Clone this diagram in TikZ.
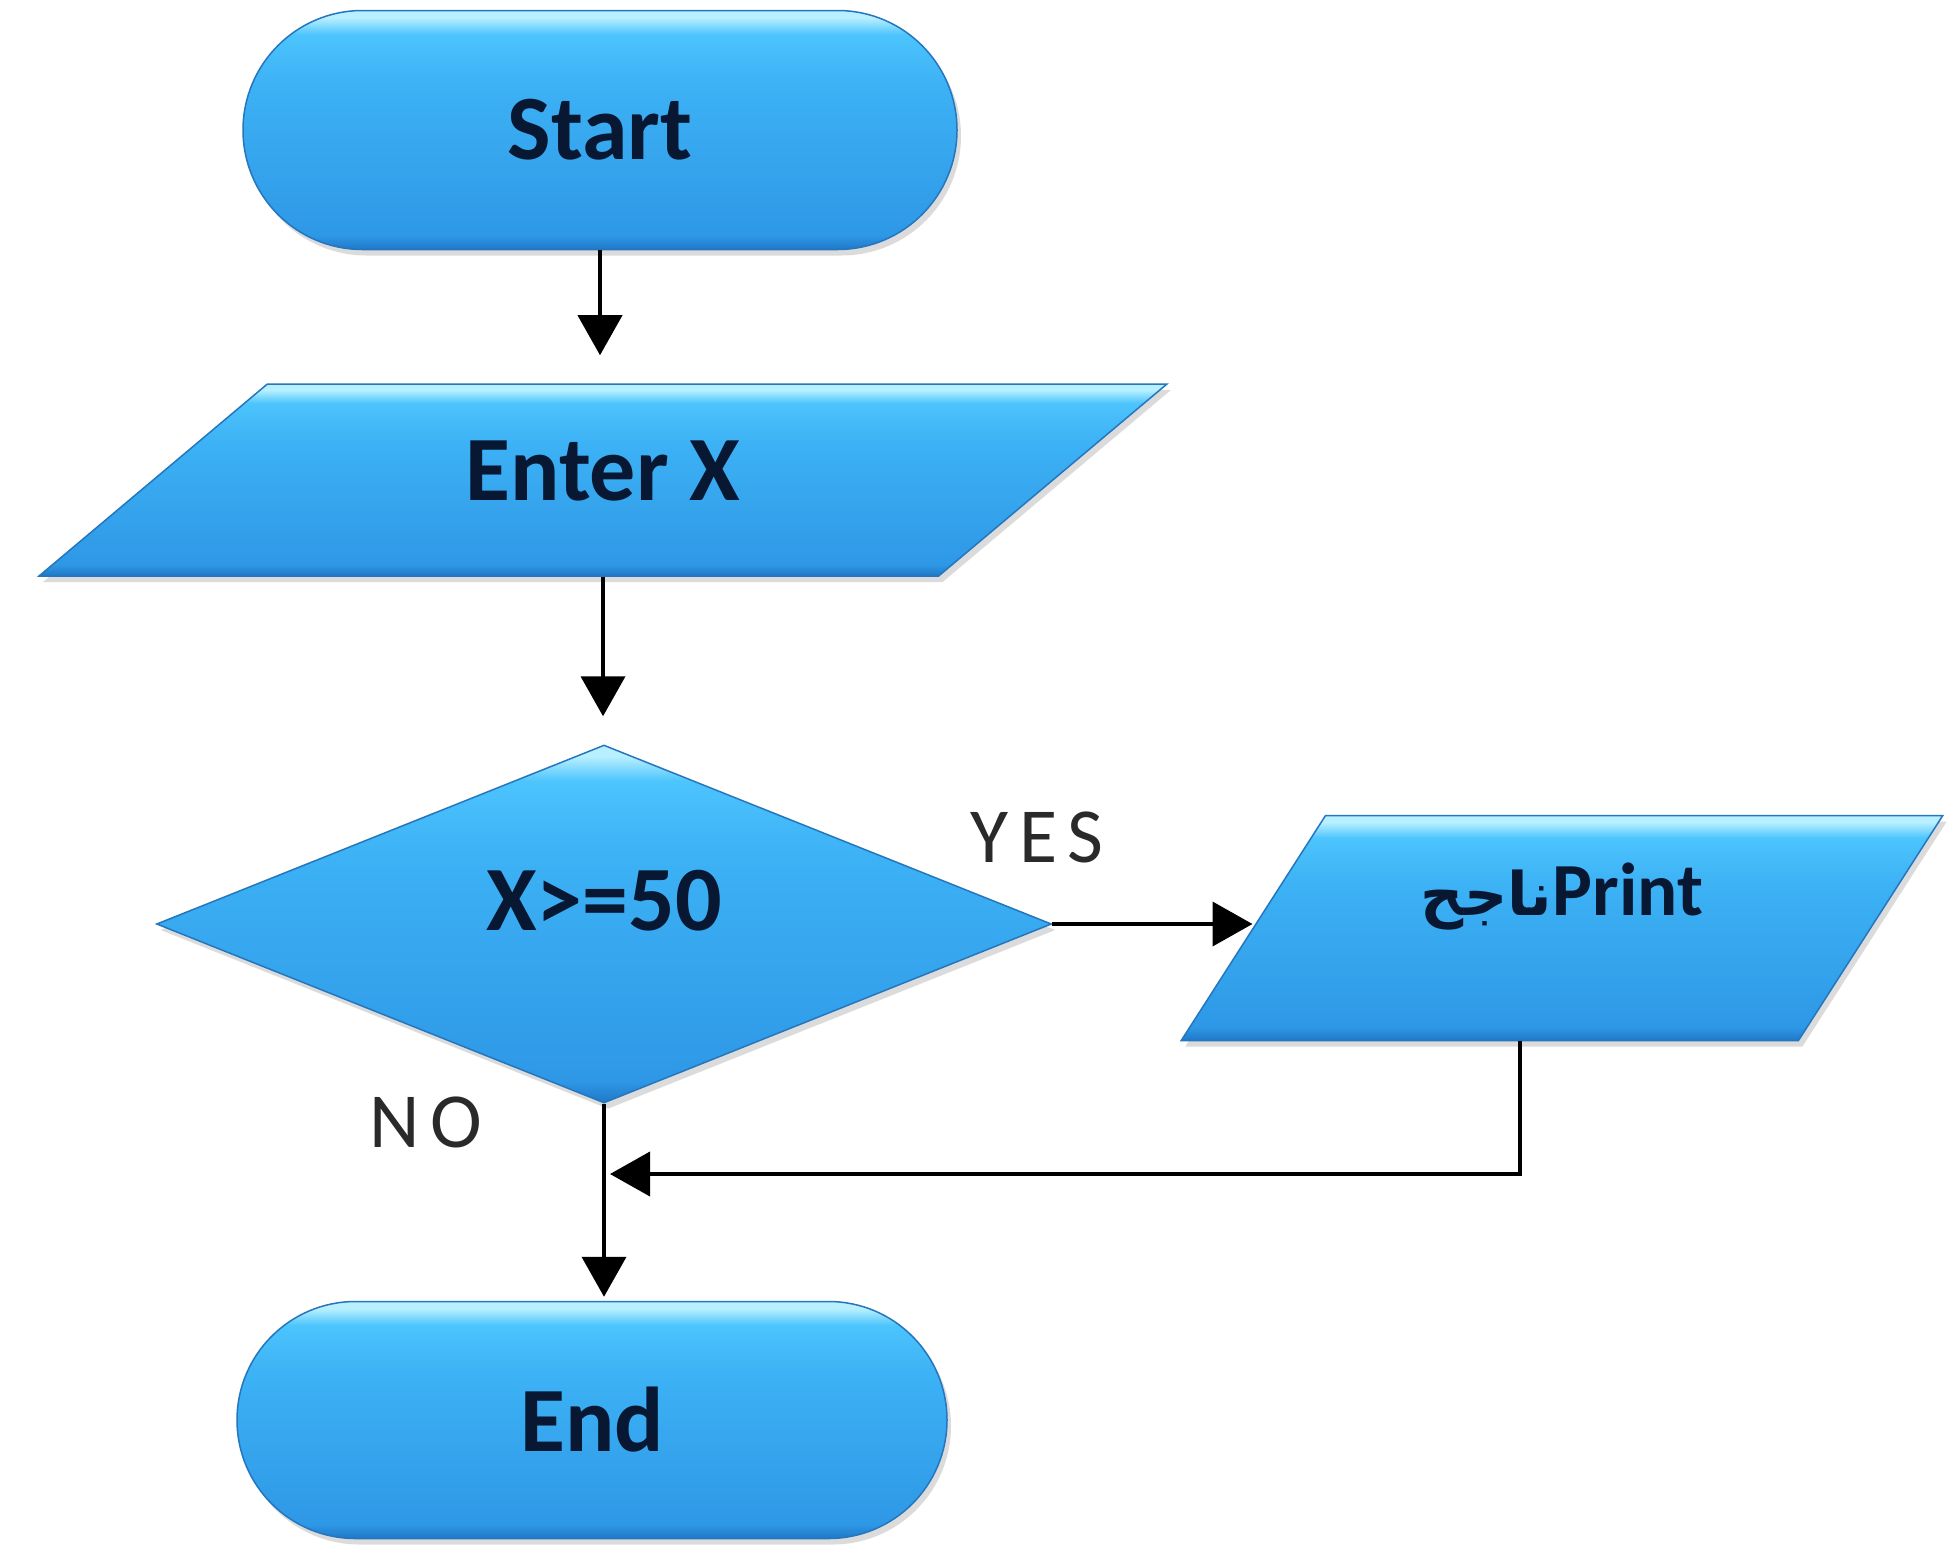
\documentclass[tikz,border=0pt]{standalone}
\usepackage{fontspec}
\setmainfont{Carlito}
\newfontfamily\arabicfont[Script=Arabic]{DejaVu Sans}
\newfontfamily\lblfont[LetterSpace=14]{Carlito}
\TeXXeTstate=1
\usetikzlibrary{shapes.misc,shapes.geometric,arrows.meta,shadows,calc}
\definecolor{bvdark}{HTML}{1F78C8}
\definecolor{bvlow}{HTML}{2E98E6}
\definecolor{bvmid}{HTML}{3DB2F5}
\definecolor{bvhigh}{HTML}{4CC4FD}
\definecolor{bvhl}{HTML}{B8F0FF}
\definecolor{bvedge}{HTML}{2476BE}
\definecolor{txtnavy}{HTML}{081833}
\definecolor{lblgray}{HTML}{2A2A2A}
\pgfdeclareverticalshading{bevelblue}{100bp}{color(0bp)=(bvdark); color(25bp)=(bvdark); color(28bp)=(bvlow); color(60bp)=(bvmid); color(70bp)=(bvhigh); color(73.5bp)=(bvhl); color(100bp)=(bvhl)}
\tikzset{
  blueshape/.style={shading=bevelblue, draw=bvedge, line width=1.5pt,
    drop shadow={opacity=0.28, shadow xshift=4pt, shadow yshift=-6pt},
    text=txtnavy, inner sep=0pt, font=\bfseries\fontsize{92}{100}\selectfont},
  term/.style={blueshape, rounded rectangle},
  io/.style={blueshape, trapezium, trapezium stretches=true},
  dec/.style={blueshape, diamond},
  lbl/.style={text=lblgray, font=\lblfont\fontsize{78}{84}\selectfont, inner sep=0pt},
  conn/.style={line width=4pt, draw=black, -{Triangle[width=44pt,length=40pt]}}
}
\begin{document}
\begin{tikzpicture}[x=1pt,y=-1pt]
\useasboundingbox[fill=white] (0,0) rectangle (1954,1551);

\node[term, minimum width=714pt, minimum height=239pt] (start) at (600,130) {Start};

\node[io, trapezium left angle=39.5, trapezium right angle=140.5,
      minimum width=1136pt, minimum height=192pt,
      text height=59pt, text depth=18pt] (enter) at (603,480) {Enter X};

\node[dec, minimum width=895pt, minimum height=358pt,
      text height=59pt, text depth=47pt] (cond) at (604,924) {X>=50};

\node[io, trapezium left angle=54.8, trapezium right angle=125.2,
      minimum width=763pt, minimum height=225pt,
      font=\bfseries\fontsize{75}{80}\selectfont,
      text height=48pt, text depth=74pt] (print) at (1562,928)
      {{\arabicfont\bfseries\fontsize{60}{66}\selectfont\beginR ناجح\endR}Print};

\node[term, minimum width=710pt, minimum height=237pt] (finish) at (592,1420) {End};

\node[lbl] (yes) at (1037,837) {YES};
\node[lbl] (no) at (426,1122) {NO};

\coordinate (pb) at ([xshift=-42pt]print.south);
\coordinate (join) at (610,1174);

\draw[conn, shorten >=28pt] (start.south) -- (start.south |- enter.north);
\draw[conn, shorten >=28pt] (enter.south) -- (enter.south |- cond.north);
\draw[conn] (cond.east) -- (cond.east -| print.west);
\draw[conn, shorten >=4pt] (cond.south) -- (cond.south |- finish.north);
\draw[conn] (pb) |- (join);
\end{tikzpicture}
\end{document}
